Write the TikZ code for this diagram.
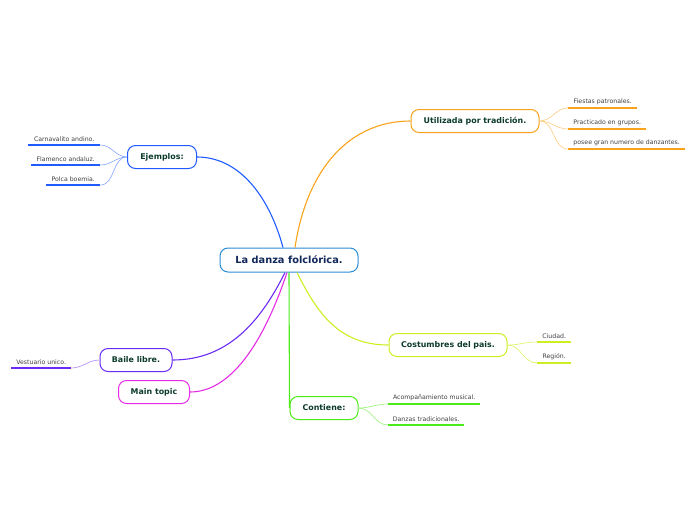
\documentclass[tikz,border=0pt]{standalone}
\usepackage{fontspec}
\setmainfont{DejaVu Sans}
\usetikzlibrary{calc}

\definecolor{cCenter}{HTML}{2B8CD6}
\definecolor{cEj}{HTML}{1F5BFF}
\definecolor{cOr}{HTML}{F9A21B}
\definecolor{cYg}{HTML}{CCEE22}
\definecolor{cGr}{HTML}{4CEB1A}
\definecolor{cPu}{HTML}{6A2BF5}
\definecolor{cMa}{HTML}{E62BE6}
\definecolor{txtTopic}{HTML}{0C3B2E}
\definecolor{txtCenter}{HTML}{10275A}

\begin{document}
\begin{tikzpicture}[x=1pt, y=-1pt,
    topic/.style={draw, rounded corners=8pt, line width=1pt, fill=white, minimum height=23pt, inner sep=1pt, text=txtTopic, font=\fontsize{7.9}{10}\selectfont\bfseries},
    leaf/.style={anchor=south west, minimum width=#1, inner xsep=0pt, inner ysep=3.2pt, text=black!75, font=\fontsize{6.2}{7}\selectfont},
    branch/.style={line width=1.1pt},
    sub/.style={line width=0.6pt},
    uline/.style={line width=1.6pt}]
    \useasboundingbox (0,0) rectangle (696,520);

    % central topic
    \node[topic, draw=cCenter, text=txtCenter, minimum width=138pt, minimum height=24pt, font=\fontsize{9.8}{12}\selectfont\bfseries] (center) at (289,260) {La danza folcl\'orica.};

    % main branches
    \node[topic, draw=cOr, minimum width=128pt] (utilizada) at (475,121) {Utilizada por tradici\'on.};
    \node[topic, draw=cEj, minimum width=69pt] (ejemplos) at (162,157) {Ejemplos:};
    \node[topic, draw=cYg, minimum width=118pt] (costumbres) at (448,345) {Costumbres del pais.};
    \node[topic, draw=cGr, minimum width=68pt] (contiene) at (324,408) {Contiene:};
    \node[topic, draw=cPu, minimum width=72pt] (baile) at (136,360) {Baile libre.};
    \node[topic, draw=cMa, minimum width=71pt] (maintopic) at (154,392) {Main topic};

    % connectors from the central topic
    \draw[branch, cEj] ([xshift=-6pt]center.north) .. controls +(-15,-55) and +(40,0) .. (ejemplos.east);
    \draw[branch, cOr] ([xshift=6pt]center.north) .. controls +(12,-80) and +(-60,0) .. (utilizada.west);
    \draw[branch, cYg] ([xshift=8pt]center.south) .. controls +(20,40) and +(-50,0) .. (costumbres.west);
    \draw[branch, cGr] (center.south) -- (contiene.west);
    \draw[branch, cPu] ([xshift=-4pt]center.south) .. controls +(-25,50) and +(55,0) .. (baile.east);
    \draw[branch, cMa] ([xshift=-2pt]center.south) .. controls +(-20,60) and +(45,0) .. (maintopic.east);

    % examples on the left
    \foreach \t/\x/\y/\w [count=\i] in {Carnavalito andino./28/145/72, Flamenco andaluz./31/165/69, Polca boemia./46/185/54} {
        \node[leaf=\w] (ej\i) at (\x,\y) {\t};
        \draw[uline, cEj] (ej\i.south west) -- (ej\i.south east);
        \draw[sub, cEj!55] (ejemplos.west) to[out=180, in=0] (ej\i.south east);
    }

    % reasons on the right
    \foreach \t/\x/\y/\w [count=\i] in {Fiestas patronales./568/108/69, Practicado en grupos./568/129/78, posee gran numero de danzantes./568/149/117} {
        \node[leaf=\w] (ut\i) at (\x,\y) {\t};
        \draw[uline, cOr] (ut\i.south west) -- (ut\i.south east);
        \draw[sub, cOr!55] (utilizada.east) to[out=0, in=180] (ut\i.south west);
    }

    % places
    \foreach \t/\x/\y/\w [count=\i] in {Ciudad./537/342/34, Regi\'on./537/363/34} {
        \node[leaf=\w] (co\i) at (\x,\y) {\t};
        \draw[uline, cYg] (co\i.south west) -- (co\i.south east);
        \draw[sub, cYg!70] (costumbres.east) to[out=0, in=180] (co\i.south west);
    }

    % contents
    \foreach \t/\x/\y/\w [count=\i] in {Acompa\~namiento musical./388/404/92, Danzas tradicionales./388/425/76} {
        \node[leaf=\w] (ct\i) at (\x,\y) {\t};
        \draw[uline, cGr] (ct\i.south west) -- (ct\i.south east);
        \draw[sub, cGr!60] (contiene.east) to[out=0, in=180] (ct\i.south west);
    }

    % free dance
    \node[leaf=60] (vestuario) at (11,368) {Vestuario unico.};
    \draw[uline, cPu] (vestuario.south west) -- (vestuario.south east);
    \draw[sub, cPu!55] (baile.west) to[out=180, in=0] (vestuario.south east);
\end{tikzpicture}
\end{document}
